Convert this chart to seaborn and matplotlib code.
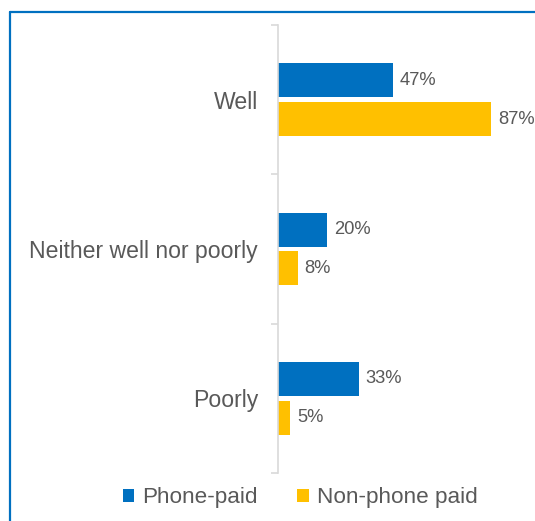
import matplotlib
matplotlib.use("Agg")
import matplotlib.pyplot as plt
from matplotlib.patches import Patch
from matplotlib.lines import Line2D
from matplotlib.ticker import FixedLocator
import pandas as pd
import seaborn as sns

# Survey responses by payment group (percent of respondents)
categories = ["Well", "Neither well nor poorly", "Poorly"]
series_names = ["Phone-paid", "Non-phone paid"]
phone_paid = [47, 20, 33]
non_phone_paid = [87, 8, 5]
colors = ["#0070C0", "#FFC000"]

df = pd.DataFrame({
    "category": categories * 2,
    "group": [series_names[0]] * 3 + [series_names[1]] * 3,
    "value": phone_paid + non_phone_paid,
})

sns.set_theme(style="white")
plt.rcParams["font.family"] = ["Liberation Sans", "DejaVu Sans"]
text_color = "#595959"

fig = plt.figure(figsize=(5.35, 5.21), dpi=100)
ax = fig.add_axes([278 / 535, 1 - 473 / 521, 245 / 535, 448 / 521])

sns.barplot(
    data=df, y="category", x="value", hue="group", order=categories,
    hue_order=series_names, palette=colors, saturation=1, orient="h",
    width=0.52, gap=0.12, linewidth=0, legend=False, ax=ax,
)

ax.set_xlim(0, 100)
ax.set_ylim(2.5, -0.5)
ax.set_xlabel("")
ax.set_ylabel("")
ax.set_xticks([])

for side in ["top", "right", "bottom"]:
    ax.spines[side].set_visible(False)
ax.spines["left"].set_color("#D9D9D9")
ax.spines["left"].set_linewidth(1.2)

# Category labels centred on bands, tick marks on band boundaries
ax.tick_params(axis="y", which="major", length=0, pad=14.4,
               labelsize=16.6, labelcolor=text_color)
ax.yaxis.set_minor_locator(FixedLocator([-0.5, 0.5, 1.5, 2.5]))
ax.tick_params(axis="y", which="minor", length=5, width=1.2,
               color="#D9D9D9", left=True)

for container in ax.containers:
    ax.bar_label(container, labels=[f"{v:.0f}%" for v in container.datavalues],
                 padding=5, fontsize=13.2, color=text_color)

handles = [Patch(facecolor=c, edgecolor="none") for c in colors]
fig.legend(
    handles, series_names, loc="center",
    bbox_to_anchor=(300 / 535, 1 - 498 / 521), ncol=2, frameon=False,
    fontsize=16.2, labelcolor=text_color, handlelength=0.52,
    handleheight=0.52, handletextpad=0.34, columnspacing=1.78,
)

# Chart frame edges along the top and left
frame_color = "#0070C0"
fig.add_artist(Line2D([10 / 535, 1.0], [1 - 11.5 / 521] * 2,
                      transform=fig.transFigure, color=frame_color, linewidth=1.6))
fig.add_artist(Line2D([10 / 535] * 2, [0.0, 1 - 11.5 / 521],
                      transform=fig.transFigure, color=frame_color, linewidth=1.6))

fig.savefig("out.png", dpi=100, facecolor="white")
